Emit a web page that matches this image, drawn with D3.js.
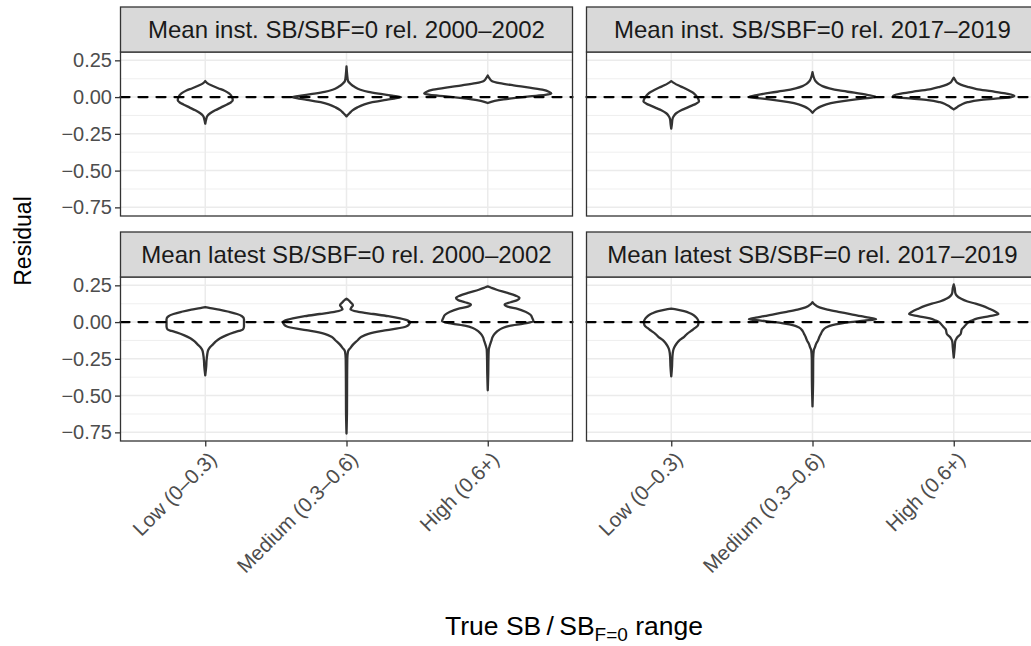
<!DOCTYPE html>
<html><head><meta charset="utf-8">
<script src="https://cdn.jsdelivr.net/npm/d3@7"></script>
<style>body{margin:0;background:#fff} svg{display:block}</style>
</head><body><svg id="c" width="1031" height="646"></svg>
<script>
// ---------- data ----------
const panelTitles = [
  "Mean inst. SB/SBF=0 rel. 2000–2002",
  "Mean inst. SB/SBF=0 rel. 2017–2019",
  "Mean latest SB/SBF=0 rel. 2000–2002",
  "Mean latest SB/SBF=0 rel. 2017–2019"
];
const categories = ["Low (0–0.3)", "Medium (0.3–0.6)", "High (0.6+)"];
const yTicks = [-0.75, -0.5, -0.25, 0, 0.25];
const yMinorTicks = [-0.625, -0.375, -0.125, 0.125];
const referenceValue = 0;

// violin profiles: [residual, relative density]
const instEarlyLow = [[0.109,0],[0.095,2],[0.08,6],[0.06,13],[0.045,19],[0.025,24],[0.0,27],[-0.022,27.7],[-0.035,26],[-0.05,22],[-0.07,16],[-0.09,10],[-0.11,5],[-0.13,2],[-0.15,1],[-0.181,0]];
const instEarlyMed = [[0.208,0],[0.15,0.7],[0.11,1.5],[0.09,4],[0.07,8],[0.05,14],[0.035,22],[0.02,36],[0.01,46],[0.0,55],[-0.01,48],[-0.02,38],[-0.035,26],[-0.05,18],[-0.07,11],[-0.09,6],[-0.11,3],[-0.131,0]];
const instEarlyHigh = [[0.147,0],[0.13,1.5],[0.11,4],[0.095,12],[0.08,26],[0.065,42],[0.05,55],[0.035,62],[0.025,64],[0.015,58],[0.005,42],[-0.005,28],[-0.015,16],[-0.025,7],[-0.04,0]];

const instLateLow = [[0.109,0],[0.095,3],[0.08,7],[0.065,12],[0.045,18],[0.03,22],[0.01,25],[-0.01,27],[-0.03,28],[-0.045,25],[-0.06,20],[-0.075,15],[-0.09,10],[-0.11,5],[-0.13,2.5],[-0.15,1.2],[-0.18,0.7],[-0.215,0]];
const instLateMed = [[0.17,0],[0.14,1],[0.11,3],[0.09,6],[0.075,10],[0.06,17],[0.045,27],[0.03,42],[0.015,55],[0.0,64],[-0.01,50],[-0.02,38],[-0.035,24],[-0.05,14],[-0.065,8],[-0.08,4],[-0.106,0]];
const instLateHigh = [[0.132,0],[0.115,1.5],[0.1,3],[0.085,7],[0.07,14],[0.055,23],[0.04,38],[0.025,52],[0.01,61],[0.0,58],[-0.01,42],[-0.02,26],[-0.035,14],[-0.05,8],[-0.065,4],[-0.084,0]];

const latestEarlyLow = [[0.102,0],[0.095,5],[0.085,14],[0.07,24],[0.055,32],[0.04,37],[0.02,39],[0.0,39],[-0.03,39],[-0.05,38],[-0.06,34],[-0.07,29],[-0.09,21],[-0.11,15],[-0.13,11],[-0.15,8],[-0.17,5],[-0.19,3],[-0.22,2],[-0.26,1.3],[-0.3,1],[-0.362,0]];
const latestEarlyMed = [[0.159,0],[0.15,2],[0.135,4],[0.115,6.5],[0.1,5],[0.085,4],[0.07,12],[0.055,27],[0.04,42],[0.025,54],[0.01,62],[0.0,64],[-0.015,63],[-0.03,60],[-0.045,50],[-0.06,36],[-0.08,22],[-0.1,15],[-0.125,11],[-0.15,7],[-0.175,4],[-0.2,1.5],[-0.25,0.8],[-0.4,0.6],[-0.6,0.5],[-0.758,0]];
const latestEarlyHigh = [[0.243,0],[0.235,3],[0.22,9],[0.2,19],[0.18,28],[0.165,32],[0.15,30],[0.135,23],[0.12,17],[0.105,20],[0.09,30],[0.07,38],[0.05,43],[0.025,45],[0.005,46],[-0.01,36],[-0.025,22],[-0.04,15],[-0.06,10],[-0.08,7],[-0.1,5],[-0.13,3.5],[-0.16,2],[-0.19,1],[-0.25,0.7],[-0.35,0.5],[-0.464,0]];

const latestLateLow = [[0.091,0],[0.085,6],[0.075,13],[0.06,19],[0.045,23],[0.025,26],[0.0,27.5],[-0.02,27],[-0.04,24],[-0.06,20],[-0.08,16],[-0.1,13],[-0.12,9],[-0.14,6],[-0.16,4],[-0.18,2.5],[-0.21,1.5],[-0.26,1],[-0.3,0.8],[-0.369,0]];
const latestLateMed = [[0.136,0],[0.12,2],[0.1,7],[0.085,15],[0.07,26],[0.055,38],[0.04,49],[0.03,57],[0.02,64],[0.01,52],[0.0,38],[-0.01,28],[-0.02,20],[-0.035,14],[-0.06,10],[-0.08,8.5],[-0.1,7],[-0.125,5.5],[-0.15,3.5],[-0.17,2.5],[-0.19,1.3],[-0.25,0.7],[-0.4,0.6],[-0.573,0]];
const latestLateHigh = [[0.256,0],[0.23,1],[0.2,1.5],[0.18,3],[0.16,7],[0.14,14],[0.125,22],[0.11,29],[0.09,36],[0.07,42],[0.055,45],[0.04,36],[0.025,24],[0.01,18],[0.0,15],[-0.02,12],[-0.035,10],[-0.05,8],[-0.065,7.5],[-0.08,7],[-0.1,4],[-0.115,2.5],[-0.13,1.5],[-0.17,1],[-0.242,0]];

const panelViolins = [
  [instEarlyLow, instEarlyMed, instEarlyHigh],
  [instLateLow, instLateMed, instLateHigh],
  [latestEarlyLow, latestEarlyMed, latestEarlyHigh],
  [latestLateLow, latestLateMed, latestLateHigh]
];

// ---------- layout ----------
const FONT = "'Liberation Sans', Arial, Helvetica, sans-serif";
const svg = d3.select("#c");
svg.append("rect").attr("width",1031).attr("height",646).attr("fill","#fff");

const colX = [[120.5, 572.5], [586.5, 1038.5]];
const rowY = [[52, 216], [277, 441]];
const stripH = 45;

const allVals = panelViolins.flat(2).map(d => d[0]);
const lo = d3.min(allVals), hi = d3.max(allVals), pad = (hi - lo) * 0.05;
const maxDens = d3.max(panelViolins.flat(2), d => d[1]);

panelTitles.forEach((title, i) => {
  const r = Math.floor(i / 2), c = i % 2;
  const [x0, x1] = colX[c], [y0, y1] = rowY[r];
  const x = d3.scalePoint().domain(categories).range([x0, x1]).padding(0.6);
  const y = d3.scaleLinear().domain([lo - pad, hi + pad]).range([y1, y0]);
  const w = d3.scaleLinear().domain([0, maxDens]).range([0, 0.45 * x.step()]);

  const g = svg.append("g");
  g.append("rect").attr("x", x0).attr("y", y0).attr("width", x1 - x0).attr("height", y1 - y0).attr("fill", "#fff");
  g.selectAll(".mn").data(yMinorTicks).enter().append("line")
    .attr("x1", x0).attr("x2", x1).attr("y1", d => y(d)).attr("y2", d => y(d))
    .attr("stroke", "#EBEBEB").attr("stroke-width", 0.8);
  g.selectAll(".mj").data(yTicks).enter().append("line")
    .attr("x1", x0).attr("x2", x1).attr("y1", d => y(d)).attr("y2", d => y(d))
    .attr("stroke", "#EBEBEB").attr("stroke-width", 1.5);
  g.selectAll(".mx").data(categories).enter().append("line")
    .attr("x1", d => x(d)).attr("x2", d => x(d)).attr("y1", y0).attr("y2", y1)
    .attr("stroke", "#EBEBEB").attr("stroke-width", 1.5);

  const area = d3.area().curve(d3.curveMonotoneY).y(d => y(d[0]));
  panelViolins[i].forEach((prof, k) => {
    const cx = x(categories[k]);
    const pts = prof.slice().sort((a, b) => b[0] - a[0]);
    area.x0(d => cx - w(d[1])).x1(d => cx + w(d[1]));
    g.append("path").attr("d", area(pts))
      .attr("fill", "#fff").attr("stroke", "#333333").attr("stroke-width", 2.3)
      .attr("stroke-linejoin", "round");
  });

  g.append("line").attr("x1", x0).attr("x2", x1)
    .attr("y1", y(referenceValue)).attr("y2", y(referenceValue))
    .attr("stroke", "#000").attr("stroke-width", 2.3)
    .attr("stroke-dasharray", "9,9").attr("stroke-linecap", "round");

  g.append("rect").attr("x", x0).attr("y", y0).attr("width", x1 - x0).attr("height", y1 - y0)
    .attr("fill", "none").attr("stroke", "#333333").attr("stroke-width", 1.3);

  g.append("rect").attr("x", x0).attr("y", y0 - stripH).attr("width", x1 - x0).attr("height", stripH)
    .attr("fill", "#D9D9D9").attr("stroke", "#333333").attr("stroke-width", 1.3);
  g.append("text").attr("x", (x0 + x1) / 2).attr("y", y0 - stripH / 2)
    .attr("text-anchor", "middle").attr("dominant-baseline", "central")
    .attr("font-family", FONT).attr("font-size", 24).attr("fill", "#1A1A1A").text(title);

  if (c === 0) {
    const ya = g.append("g").attr("transform", `translate(${x0},0)`)
      .call(d3.axisLeft(y).tickValues(yTicks).tickSize(5.5).tickPadding(3).tickFormat(d3.format(".2f")));
    ya.select(".domain").remove();
    ya.selectAll(".tick line").attr("stroke", "#333333").attr("stroke-width", 1.3);
    ya.selectAll(".tick text").attr("font-family", FONT).attr("font-size", 20).attr("fill", "#4D4D4D");
  }
  if (r === 1) {
    const xa = g.append("g").attr("transform", `translate(0,${y1})`)
      .call(d3.axisBottom(x).tickSize(5.5).tickFormat(""));
    xa.select(".domain").remove();
    xa.selectAll(".tick line").attr("stroke", "#333333").attr("stroke-width", 1.3);
    categories.forEach(cat => {
      g.append("text")
        .attr("transform", `translate(${x(cat) + 1},${y1 + 8}) rotate(-45)`)
        .attr("text-anchor", "end").attr("dy", "0.8em")
        .attr("font-family", FONT).attr("font-size", 20.5).attr("fill", "#4D4D4D")
        .text(cat);
    });
  }
});

svg.append("text").attr("transform", "translate(23,241) rotate(-90)")
  .attr("text-anchor", "middle").attr("dominant-baseline", "central")
  .attr("font-family", FONT).attr("font-size", 23).attr("fill", "#000").text("Residual");

const xt = svg.append("text").attr("x", 574).attr("y", 635).attr("text-anchor", "middle")
  .attr("font-family", FONT).attr("font-size", 26.5).attr("fill", "#000");
xt.append("tspan").text("True SB\u2009/\u2009SB");
xt.append("tspan").attr("font-size", 19).attr("dy", 6).text("F=0");
xt.append("tspan").attr("dy", -6).text(" range");
</script></body></html>
